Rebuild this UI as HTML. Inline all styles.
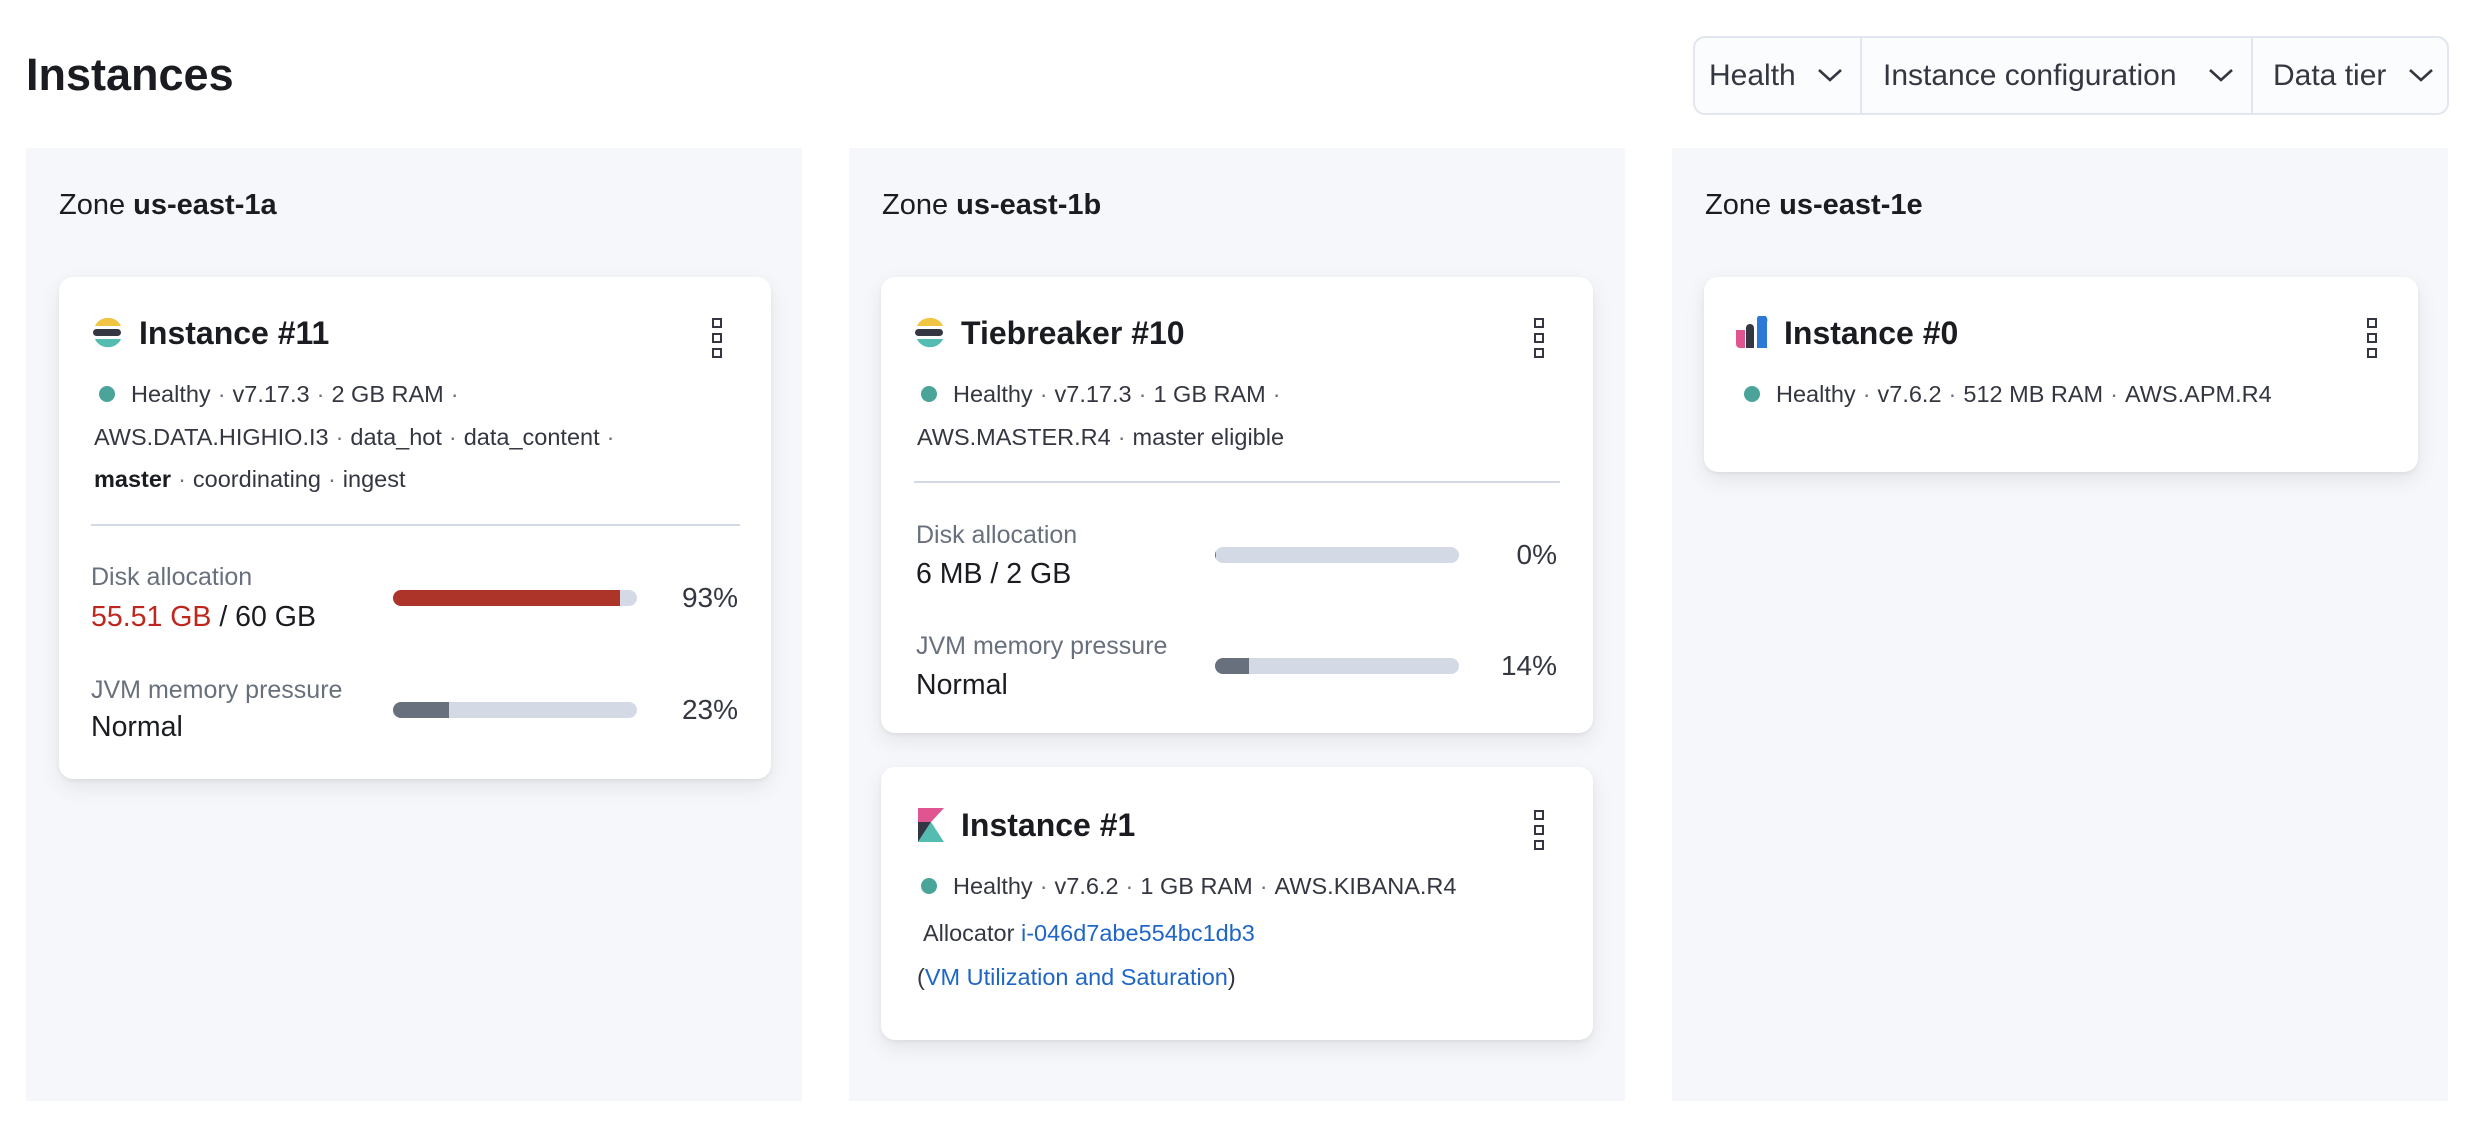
<!DOCTYPE html>
<html><head><meta charset="utf-8"><style>
*{margin:0;padding:0;box-sizing:border-box}
body{width:2490px;height:1124px;background:#fff;position:relative;overflow:hidden;font-family:"Liberation Sans",sans-serif;color:#1a1c21}
.a{position:absolute}
.t{position:absolute;white-space:nowrap;line-height:40px;height:40px;margin-top:-20px}
.panel{position:absolute;top:148px;height:953px;width:776px;background:#f5f7fa}
.card{position:absolute;background:#fff;border-radius:14px;box-shadow:0 2px 4px rgba(0,0,0,.05),0 8px 22px rgba(0,0,0,.08)}
.ttl{font-size:32px;font-weight:bold}
.m{font-size:23.5px;color:#343741}
.dot{position:absolute;width:16px;height:16px;border-radius:50%;background:#4aa49a;margin-top:-8px}
.sep{color:#69707d;padding:0 7px}
.lbl{font-size:25px;color:#69707d}
.val{font-size:28.5px;color:#1a1c21}
.bar{position:absolute;height:16px;margin-top:-8px;width:244px;border-radius:8px;background:#d3dae6;overflow:hidden}
.bar i{display:block;height:100%}
.pct{font-size:28px;color:#343741;text-align:right;width:120px}
.menu{position:absolute;width:10px}
.menu b{display:block;width:10px;height:10px;border:2px solid #343741;margin-bottom:5px}
.link{color:#1f66c7}
.fb{position:absolute;font-size:30px;color:#343741}
.z{font-size:29px}
</style></head><body>
<div class="t" style="left:26px;top:75px;font-size:45px;font-weight:bold;line-height:56px;height:56px;margin-top:-28px">Instances</div>

<div class="a" style="left:1693px;top:36px;width:756px;height:79px;border:2px solid #e3e6f0;border-radius:12px;background:#fbfcfd"></div>
<div class="a" style="left:1860px;top:38px;width:2px;height:75px;background:#e3e6f0"></div>
<div class="a" style="left:2251px;top:38px;width:2px;height:75px;background:#e3e6f0"></div>
<div class="t fb" style="left:1709px;top:76px">Health</div>
<div class="t fb" style="left:1883px;top:76px">Instance configuration</div>
<div class="t fb" style="left:2273px;top:76px">Data tier</div>
<svg class="a" style="left:1817px;top:67px" width="26" height="16"><polyline points="2,3 13,13 24,3" fill="none" stroke="#343741" stroke-width="2.6"/></svg>
<svg class="a" style="left:2208px;top:67px" width="26" height="16"><polyline points="2,3 13,13 24,3" fill="none" stroke="#343741" stroke-width="2.6"/></svg>
<svg class="a" style="left:2408px;top:67px" width="26" height="16"><polyline points="2,3 13,13 24,3" fill="none" stroke="#343741" stroke-width="2.6"/></svg>

<div class="panel" style="left:26px"></div>
<div class="panel" style="left:849px"></div>
<div class="panel" style="left:1672px"></div>
<div class="t z" style="left:59px;top:205px">Zone <b>us-east-1a</b></div>
<div class="t z" style="left:882px;top:205px">Zone <b>us-east-1b</b></div>
<div class="t z" style="left:1705px;top:205px">Zone <b>us-east-1e</b></div>

<!-- Card 1 -->
<div class="card" style="left:59px;top:277px;width:712px;height:502px"></div>
<svg class="a" style="left:92px;top:316px" width="32" height="32"><path d="M3,10 A14,13 0 0 1 29,10 Z" fill="#f0c542"/><rect x="1" y="13" width="28" height="7" rx="3.5" fill="#343741"/><path d="M3,23 L29,23 A14,13 0 0 1 3,23 Z" fill="#54bcb0"/></svg>
<div class="t ttl" style="left:139px;top:333px">Instance #11</div>
<div class="menu" style="left:712px;top:318px"><b></b><b></b><b></b></div>
<div class="dot" style="left:99px;top:394px"></div>
<div class="t m" style="left:131px;top:394px">Healthy<span class="sep">·</span>v7.17.3<span class="sep">·</span>2 GB RAM<span class="sep">·</span></div>
<div class="t m" style="left:94px;top:437px">AWS.DATA.HIGHIO.I3<span class="sep">·</span>data_hot<span class="sep">·</span>data_content<span class="sep">·</span></div>
<div class="t m" style="left:94px;top:479px"><b style="color:#1a1c21">master</b><span class="sep">·</span>coordinating<span class="sep">·</span>ingest</div>
<div class="a" style="left:91px;top:524px;width:649px;height:2px;background:#d3dae6"></div>
<div class="t lbl" style="left:91px;top:577px">Disk allocation</div>
<div class="t val" style="left:91px;top:617px"><span style="color:#bd271e">55.51 GB</span> / 60 GB</div>
<div class="bar" style="left:393px;top:598px"><i style="width:93%;background:#ac3429"></i></div>
<div class="t pct" style="left:618px;top:598px">93%</div>
<div class="t lbl" style="left:91px;top:690px">JVM memory pressure</div>
<div class="t val" style="left:91px;top:727px">Normal</div>
<div class="bar" style="left:393px;top:710px"><i style="width:23%;background:#69707d"></i></div>
<div class="t pct" style="left:618px;top:710px">23%</div>

<!-- Card 2 -->
<div class="card" style="left:881px;top:277px;width:712px;height:456px"></div>
<svg class="a" style="left:914px;top:316px" width="32" height="32"><path d="M3,10 A14,13 0 0 1 29,10 Z" fill="#f0c542"/><rect x="1" y="13" width="28" height="7" rx="3.5" fill="#343741"/><path d="M3,23 L29,23 A14,13 0 0 1 3,23 Z" fill="#54bcb0"/></svg>
<div class="t ttl" style="left:961px;top:333px">Tiebreaker #10</div>
<div class="menu" style="left:1534px;top:318px"><b></b><b></b><b></b></div>
<div class="dot" style="left:921px;top:394px"></div>
<div class="t m" style="left:953px;top:394px">Healthy<span class="sep">·</span>v7.17.3<span class="sep">·</span>1 GB RAM<span class="sep">·</span></div>
<div class="t m" style="left:917px;top:437px">AWS.MASTER.R4<span class="sep">·</span>master eligible</div>
<div class="a" style="left:914px;top:481px;width:646px;height:2px;background:#d3dae6"></div>
<div class="t lbl" style="left:916px;top:535px">Disk allocation</div>
<div class="t val" style="left:916px;top:574px">6 MB / 2 GB</div>
<div class="bar" style="left:1215px;top:555px"><i style="width:1px;background:#69707d"></i></div>
<div class="t pct" style="left:1437px;top:555px">0%</div>
<div class="t lbl" style="left:916px;top:646px">JVM memory pressure</div>
<div class="t val" style="left:916px;top:685px">Normal</div>
<div class="bar" style="left:1215px;top:666px"><i style="width:14%;background:#69707d"></i></div>
<div class="t pct" style="left:1437px;top:666px">14%</div>

<!-- Card 3 -->
<div class="card" style="left:881px;top:767px;width:712px;height:273px"></div>
<svg class="a" style="left:918px;top:808px" width="26" height="34"><polygon points="0,0 26,0 0,28" fill="#e0548f"/><polygon points="0,14 13,14 0,34" fill="#343741"/><polygon points="0,34 13,14 26,34" fill="#54bcb0"/></svg>
<div class="t ttl" style="left:961px;top:825px">Instance #1</div>
<div class="menu" style="left:1534px;top:810px"><b></b><b></b><b></b></div>
<div class="dot" style="left:921px;top:886px"></div>
<div class="t m" style="left:953px;top:886px">Healthy<span class="sep">·</span>v7.6.2<span class="sep">·</span>1 GB RAM<span class="sep">·</span>AWS.KIBANA.R4</div>
<div class="t m" style="left:923px;top:933px">Allocator <span class="link">i-046d7abe554bc1db3</span></div>
<div class="t m" style="left:917px;top:977px">(<span class="link">VM Utilization and Saturation</span>)</div>

<!-- Card 4 -->
<div class="card" style="left:1704px;top:277px;width:714px;height:195px"></div>
<svg class="a" style="left:1736px;top:316px" width="32" height="32"><path d="M0,14 L9,14 L9,32 L4,32 A4,4 0 0 1 0,28 Z" fill="#e0548f"/><path d="M10,12 A4,4 0 0 1 18,12 L18,32 L10,32 Z" fill="#343741"/><path d="M21,2 A5,5 0 0 1 31,6 L31,32 L21,32 Z" fill="#2d7ad6"/></svg>
<div class="t ttl" style="left:1784px;top:333px">Instance #0</div>
<div class="menu" style="left:2367px;top:318px"><b></b><b></b><b></b></div>
<div class="dot" style="left:1744px;top:394px"></div>
<div class="t m" style="left:1776px;top:394px">Healthy<span class="sep">·</span>v7.6.2<span class="sep">·</span>512 MB RAM<span class="sep">·</span>AWS.APM.R4</div>
</body></html>
